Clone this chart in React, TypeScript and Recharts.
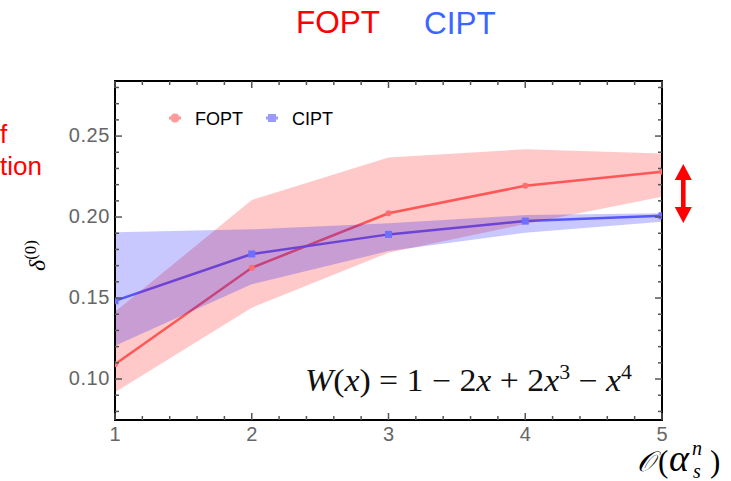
import React from 'react';
import { ComposedChart, Line, Area, XAxis, YAxis, Legend, Customized } from 'recharts';

// ---------- data ----------
const orders = [1, 2, 3, 4, 5];
const foptCentral = [0.1091, 0.1687, 0.2023, 0.2193, 0.228];
const foptLow = [0.0918, 0.144, 0.178, 0.1957, 0.2125];
const foptHigh = [0.1415, 0.2105, 0.2368, 0.2418, 0.2393];
const ciptCentral = [0.1483, 0.1772, 0.1893, 0.1975, 0.2008];
const ciptLow = [0.1206, 0.1585, 0.179, 0.1903, 0.1971];
const ciptHigh = [0.1906, 0.1924, 0.1961, 0.2012, 0.2023];

const xTicks = [1, 1.2, 1.4, 1.6, 1.8, 2, 2.2, 2.4, 2.6, 2.8, 3, 3.2, 3.4, 3.6, 3.8, 4, 4.2, 4.4, 4.6, 4.8, 5];
const xLabelTicks = [1, 2, 3, 4, 5];
const yTicks = [0.08, 0.09, 0.1, 0.11, 0.12, 0.13, 0.14, 0.15, 0.16, 0.17, 0.18, 0.19, 0.2, 0.21, 0.22, 0.23, 0.24, 0.25, 0.26, 0.27, 0.28];
const yLabelTicks = [0.1, 0.15, 0.2, 0.25];

const seriesNames = ['FOPT', 'CIPT'];

const data = orders.map((x, i) => ({
  x,
  FOPT: foptCentral[i],
  CIPT: ciptCentral[i],
  foptBand: [foptLow[i], foptHigh[i]],
  ciptBand: [ciptLow[i], ciptHigh[i]],
}));

// ---------- layout / style ----------
const W = 731;
const H = 481;
// axes take 1px each, so plot area = margin + 1
const MARGIN = { top: 80, right: 68, bottom: 60, left: 114 };
const X_DOMAIN: [number, number] = [1, 5];
const Y_DOMAIN: [number, number] = [0.0747, 0.284];

const SANS = '"Liberation Sans", Arial, Helvetica, sans-serif';
const SERIF = '"Liberation Serif", "DejaVu Serif", "Times New Roman", serif';
const TICK_COLOR = '#555';
const LABEL_COLOR = '#666';
const FOPT_LINE = '#ff6e6e';
const CIPT_LINE = '#6e6eff';
const FRAME = { stroke: '#000', strokeWidth: 2, strokeLinecap: 'square' as const };

const isIn = (list: number[], v: number) => list.some((t) => Math.abs(t - v) < 1e-9);

const BottomTick = (p: any) => {
  const { x, y, payload } = p;
  const major = isIn(xLabelTicks, payload.value);
  return (
    <g>
      <line x1={x} x2={x} y1={y} y2={y - (major ? 7 : 4)} stroke={TICK_COLOR} strokeWidth={1.5} />
      {major && (
        <text x={x} y={y + 21} textAnchor="middle" fontSize={20} fill={LABEL_COLOR} fontFamily={SANS}>
          {payload.value}
        </text>
      )}
    </g>
  );
};

const TopTick = (p: any) => {
  const { x, y, payload } = p;
  const major = isIn(xLabelTicks, payload.value);
  return <line x1={x} x2={x} y1={y} y2={y + (major ? 7 : 4)} stroke={TICK_COLOR} strokeWidth={1.5} />;
};

const LeftTick = (p: any) => {
  const { x, y, payload } = p;
  const major = isIn(yLabelTicks, payload.value);
  return (
    <g>
      <line x1={x} x2={x + (major ? 7 : 4)} y1={y} y2={y} stroke={TICK_COLOR} strokeWidth={1.5} />
      {major && (
        <text x={x - 5} y={y + 6} textAnchor="end" fontSize={20} fill={LABEL_COLOR} fontFamily={SANS} letterSpacing={0.6}>
          {Number(payload.value).toFixed(2)}
        </text>
      )}
    </g>
  );
};

const RightTick = (p: any) => {
  const { x, y, payload } = p;
  const major = isIn(yLabelTicks, payload.value);
  return <line x1={x} x2={x - (major ? 7 : 4)} y1={y} y2={y} stroke={TICK_COLOR} strokeWidth={1.5} />;
};

const SquareDot = (p: any) => {
  const { cx, cy, index } = p;
  if (cx == null || cy == null) return <g key={`sq-${index}`} />;
  return <rect key={`sq-${index}`} x={cx - 3.5} y={cy - 3.5} width={7} height={7} fill={CIPT_LINE} />;
};

const LegendContent = (props: any) => {
  const entries = (props.payload || []).filter((e: any) => seriesNames.includes(e.value));
  const items = seriesNames.map((n) => entries.find((e: any) => e.value === n)).filter(Boolean);
  return (
    <svg width={200} height={24} style={{ display: 'block' }}>
      {items.map((e: any, i: number) => {
        const cx = 15 + i * 97;
        const col = e.value === 'FOPT' ? '#ff9a9a' : '#9a9aff';
        return (
          <g key={e.value}>
            <line x1={cx - 6} x2={cx + 6} y1={12} y2={12} stroke={col} strokeWidth={3} />
            {e.value === 'FOPT' ? (
              <circle cx={cx} cy={12} r={4.5} fill={col} />
            ) : (
              <rect x={cx - 4} y={8} width={8} height={8} fill={col} />
            )}
            <text x={cx + 20} y={18.5} fontSize={18} fontFamily={SANS} fill="#000">
              {e.value}
            </text>
          </g>
        );
      })}
    </svg>
  );
};

const Annotations = () => (
  <g>
    {/* title */}
    <text x={296} y={33} fontSize={31.5} fontFamily={SANS} fill="#ff0000">FOPT</text>
    <text x={424} y={34} fontSize={31.5} fontFamily={SANS} fill="#3a66ff">CIPT</text>
    {/* cropped side text */}
    <text x={0} y={143} fontSize={26} fontFamily={SANS} fill="#ff0000">f</text>
    <text x={0} y={175} fontSize={26} fontFamily={SANS} fill="#ff0000">tion</text>
    {/* y-axis label, rotated */}
    <text
      x={45}
      y={271}
      transform="rotate(-90, 45, 271)"
      fontFamily={SERIF}
      fontSize={24}
      fontStyle="italic"
      fill="#000"
    >
      δ<tspan fontStyle="normal" fontSize={17} dy={-9}>(0)</tspan>
    </text>
    {/* formula */}
    <text x={305} y={391} fontFamily={SERIF} fontSize={31} fill="#111" textLength={327} lengthAdjust="spacingAndGlyphs">
      <tspan fontStyle="italic">W</tspan>
      <tspan>(</tspan>
      <tspan fontStyle="italic">x</tspan>
      <tspan>) = 1 − 2</tspan>
      <tspan fontStyle="italic">x</tspan>
      <tspan> + 2</tspan>
      <tspan fontStyle="italic">x</tspan>
      <tspan fontSize={20} dy={-12}>3</tspan>
      <tspan dy={12}> − </tspan>
      <tspan fontStyle="italic">x</tspan>
      <tspan fontSize={20} dy={-12}>4</tspan>
    </text>
    {/* x-axis label */}
    <text fontFamily={SERIF} fontSize={28} fill="#000">
      <tspan x={637} y={471} fontStyle="italic">𝒪</tspan>
      <tspan x={658} y={472} fontSize={31}>(</tspan>
      <tspan x={669} y={471} fontStyle="italic" fontSize={38}>α</tspan>
      <tspan x={692} y={455} fontStyle="italic" fontSize={20}>n</tspan>
      <tspan x={693} y={478} fontStyle="italic" fontSize={20}>s</tspan>
      <tspan x={710} y={472} fontSize={31}>)</tspan>
    </text>
    {/* red double arrow */}
    <path
      d="M683.3,164 L691.8,180 L685.6,180 L685.6,207 L691.8,207 L683.3,223 L674.8,207 L681,207 L681,180 L674.8,180 Z"
      fill="#ff0000"
    />
  </g>
);

export default function App() {
  return (
    <div style={{ position: 'absolute', left: 0, top: 0, width: W, height: H, overflow: 'hidden', background: '#fff' }}>
      <ComposedChart width={W} height={H} data={data} margin={MARGIN}>
        <XAxis
          xAxisId="b"
          dataKey="x"
          type="number"
          domain={X_DOMAIN}
          ticks={xTicks}
          interval={0}
          height={1}
          tickSize={0}
          tickMargin={0}
          tickLine={false}
          axisLine={FRAME}
          tick={(p: any) => <BottomTick {...p} />}
          allowDataOverflow
        />
        <XAxis
          xAxisId="t"
          orientation="top"
          dataKey="x"
          type="number"
          domain={X_DOMAIN}
          ticks={xTicks}
          interval={0}
          height={1}
          tickSize={0}
          tickMargin={0}
          tickLine={false}
          axisLine={FRAME}
          tick={(p: any) => <TopTick {...p} />}
          allowDataOverflow
        />
        <YAxis
          yAxisId="l"
          type="number"
          domain={Y_DOMAIN}
          ticks={yTicks}
          interval={0}
          width={1}
          tickSize={0}
          tickMargin={0}
          tickLine={false}
          axisLine={FRAME}
          tick={(p: any) => <LeftTick {...p} />}
          allowDataOverflow
        />
        <YAxis
          yAxisId="r"
          orientation="right"
          type="number"
          domain={Y_DOMAIN}
          ticks={yTicks}
          interval={0}
          width={1}
          tickSize={0}
          tickMargin={0}
          tickLine={false}
          axisLine={FRAME}
          tick={(p: any) => <RightTick {...p} />}
          allowDataOverflow
        />
        <Line
          xAxisId="b"
          yAxisId="l"
          type="linear"
          dataKey="FOPT"
          name="FOPT"
          stroke={FOPT_LINE}
          strokeWidth={2.5}
          dot={{ r: 3, fill: FOPT_LINE, stroke: 'none' }}
          activeDot={false}
          isAnimationActive={false}
          zIndex={100}
        />
        <Line
          xAxisId="b"
          yAxisId="l"
          type="linear"
          dataKey="CIPT"
          name="CIPT"
          stroke={CIPT_LINE}
          strokeWidth={2.5}
          dot={(p: any) => <SquareDot {...p} key={`sq-${p.index}`} />}
          activeDot={false}
          isAnimationActive={false}
          zIndex={100}
        />
        <Area
          xAxisId="b"
          yAxisId="l"
          type="linear"
          dataKey="foptBand"
          stroke="none"
          fill="#ff0000"
          fillOpacity={0.21}
          legendType="none"
          isAnimationActive={false}
          zIndex={200}
        />
        <Area
          xAxisId="b"
          yAxisId="l"
          type="linear"
          dataKey="ciptBand"
          stroke="none"
          fill="#0000ff"
          fillOpacity={0.215}
          legendType="none"
          isAnimationActive={false}
          zIndex={201}
        />
        <Legend
          layout="horizontal"
          verticalAlign="middle"
          align="center"
          wrapperStyle={{ left: 160, top: 106, width: 200, height: 24 }}
          content={(p: any) => <LegendContent {...p} />}
        />
        <Customized component={<Annotations />} />
      </ComposedChart>
    </div>
  );
}
